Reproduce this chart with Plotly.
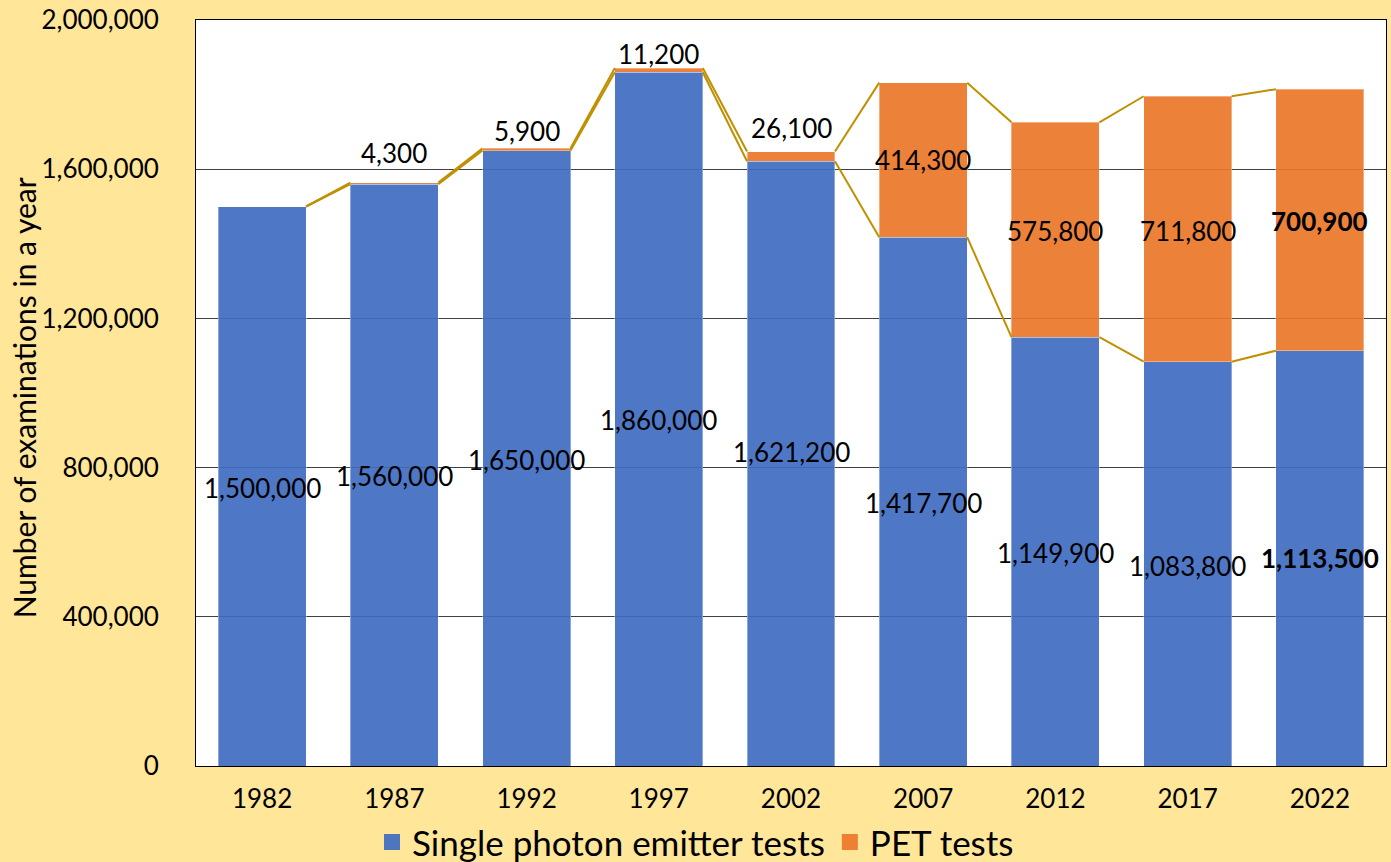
import plotly.graph_objects as go

# data
years = ["1982", "1987", "1992", "1997", "2002", "2007", "2012", "2017", "2022"]
spect_tests = [1500000, 1560000, 1650000, 1860000, 1621200, 1417700, 1149900, 1083800, 1113500]
pet_tests = [0, 4300, 5900, 11200, 26100, 414300, 575800, 711800, 700900]
y_ticks = [0, 400000, 800000, 1200000, 1600000, 2000000]

# where the labels were dragged to in the original (data units)
spect_label_y = [745000, 778000, 820000, 928000, 842000, 705000, 571000, 536000, 558000]
pet_label_y = [None, 1643000, 1702000, 1909000, 1710000, 1625000, 1434000, 1434000, 1461000]

FONT = "Lato, 'Noto Sans', sans-serif"
BLUE = "#3F6DC2"
ORANGE = "#EB7729"
GOLD = "#BF9000"
BAR_W = 0.665

x = list(range(len(years)))
totals = [s + p for s, p in zip(spect_tests, pet_tests)]


def series_line(values):
    """Excel style series lines: right edge of one bar to left edge of the next"""
    xs, ys = [], []
    for i in range(len(values) - 1):
        xs += [i + BAR_W / 2, i + 1 - BAR_W / 2, None]
        ys += [values[i], values[i + 1], None]
    return xs, ys


fig = go.Figure()

series = [("Single photon emitter tests", spect_tests, BLUE),
          ("PET tests", pet_tests, ORANGE)]

for name, vals, color in series:
    fig.add_trace(go.Bar(
        x=x, y=vals, name=name, showlegend=False,
        marker=dict(color=color, line=dict(color="rgba(255,255,255,0.35)", width=1)),
        opacity=0.92, width=BAR_W
    ))

for vals in (spect_tests, totals):
    lx, ly = series_line(vals)
    fig.add_trace(go.Scatter(
        x=lx, y=ly, mode="lines", line=dict(color=GOLD, width=2),
        showlegend=False, hoverinfo="skip"
    ))

# legend entries with bigger square swatches than the bar icons
for name, vals, color in series:
    fig.add_trace(go.Scatter(
        x=[None], y=[None], mode="markers", name=name,
        marker=dict(symbol="square", size=16, color=color, opacity=0.92)
    ))

annotations = []
last = len(years) - 1
for i in x:
    bold = i == last
    txt = f"{spect_tests[i]:,}"
    annotations.append(dict(
        x=i, y=spect_label_y[i], xref="x", yref="y", showarrow=False,
        text=f"<b>{txt}</b>" if bold else txt,
        font=dict(family=FONT, size=26, color="black")
    ))
    if pet_label_y[i] is not None:
        txt = f"{pet_tests[i]:,}"
        annotations.append(dict(
            x=i, y=pet_label_y[i], xref="x", yref="y", showarrow=False,
            text=f"<b>{txt}</b>" if bold else txt,
            font=dict(family=FONT, size=26, color="black")
        ))

annotations.append(dict(
    x=-0.1445, y=0.493, xref="paper", yref="paper", showarrow=False,
    xanchor="center", yanchor="middle",
    text="Number of examinations in a year", textangle=-90,
    font=dict(family=FONT, size=30, color="black")
))

fig.update_layout(
    barmode="stack",
    width=1391, height=862,
    paper_bgcolor="#FFE699",
    plot_bgcolor="white",
    margin=dict(l=196, r=5, t=20, b=96, autoexpand=False),
    font=dict(family=FONT, size=24, color="black"),
    annotations=annotations,
    legend=dict(
        orientation="h", x=0.5, xanchor="center", xref="container",
        y=0.023, yanchor="middle", yref="container",
        font=dict(family=FONT, size=35, color="black"),
        bgcolor="rgba(0,0,0,0)", itemwidth=30, traceorder="normal"
    ),
    xaxis=dict(
        tickmode="array", tickvals=x, ticktext=years,
        range=[-0.5, len(years) - 0.5],
        showline=True, mirror=True, linecolor="black", linewidth=1,
        showgrid=False, ticks="", ticklabelstandoff=10,
        tickfont=dict(family=FONT, size=26)
    ),
    yaxis=dict(
        range=[0, 2000000], tickmode="array", tickvals=y_ticks,
        tickformat=",d",
        showline=True, mirror=True, linecolor="black", linewidth=1,
        showgrid=True, gridcolor="#404040", gridwidth=1,
        zeroline=False, ticks="", ticklabelstandoff=31,
        tickfont=dict(family=FONT, size=26)
    ),
)

fig.write_html("out.html", config={"displayModeBar": False},
               post_script="document.body.style.margin='0';")
